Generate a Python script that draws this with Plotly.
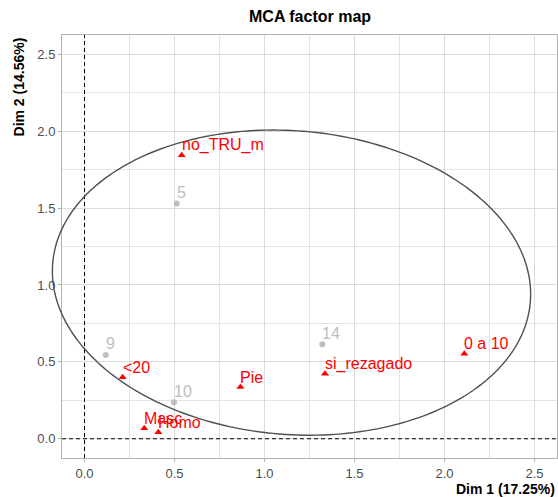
import numpy as np
import plotly.graph_objects as go

# ---- data ----
ind_labels = ["5", "9", "10", "14"]
ind_x = [0.512, 0.118, 0.497, 1.321]
ind_y = [1.530, 0.545, 0.238, 0.615]

cat_labels = ["no_TRU_m", "<20", "Masc", "Homo", "Pie", "si_rezagado", "0 a 10"]
cat_x = [0.540, 0.212, 0.332, 0.410, 0.866, 1.336, 2.110]
cat_y = [1.844, 0.400, 0.069, 0.043, 0.336, 0.422, 0.552]

# ellipse (centre, radii, phase)
ell_cx, ell_cy = 1.15, 1.015
ell_rx, ell_ry = 1.3285, 0.992
ell_phi = 1.6465

XR = [-0.125, 2.625]
YR = [-0.125, 2.625]

FONT = "Liberation Sans, Arial, sans-serif"
GREY = "#bebebe"
RED = "#ff0000"

fig = go.Figure()

fig.add_trace(go.Scatter(
    x=ind_x, y=ind_y, mode="markers",
    marker=dict(symbol="circle", size=6, color=GREY),
    showlegend=False, hoverinfo="skip"))
fig.add_trace(go.Scatter(
    x=cat_x, y=cat_y, mode="markers",
    marker=dict(symbol="triangle-up", size=7, color=RED),
    showlegend=False, hoverinfo="skip"))

annotations = []
for lab, x, y in zip(ind_labels, ind_x, ind_y):
    annotations.append(dict(x=x, y=y, xref="x", yref="y", text=lab, showarrow=False,
                            xanchor="left", yanchor="middle", xshift=-2, yshift=11,
                            font=dict(family=FONT, size=16, color=GREY)))
for lab, x, y in zip(cat_labels, cat_x, cat_y):
    annotations.append(dict(x=x, y=y, xref="x", yref="y", text=lab.replace("<", "&lt;"),
                            showarrow=False, xanchor="left", yanchor="middle",
                            xshift=-2, yshift=10,
                            font=dict(family=FONT, size=16, color=RED)))

# titles
annotations.append(dict(x=0.5, y=1.043, xref="paper", yref="paper", text="<b>MCA factor map</b>",
                        showarrow=False, xanchor="center", yanchor="middle",
                        font=dict(family=FONT, size=16, color="#000000")))
annotations.append(dict(x=1.0, y=-0.0733, xref="paper", yref="paper", text="<b>Dim 1 (17.25%)</b>",
                        showarrow=False, xanchor="right", yanchor="middle",
                        font=dict(family=FONT, size=14, color="#000000")))
annotations.append(dict(x=-0.0869, y=1.0, xref="paper", yref="paper", text="<b>Dim 2 (14.56%)</b>",
                        showarrow=False, xanchor="center", yanchor="top", textangle=-90,
                        font=dict(family=FONT, size=14, color="#000000")))

# ellipse in paper coordinates (so it is not clipped by the panel)
t = np.linspace(0, 2 * np.pi, 241)
ex = ell_cx + ell_rx * np.cos(t)
ey = ell_cy + ell_ry * np.cos(t - ell_phi)
px = (ex - XR[0]) / (XR[1] - XR[0])
py = (ey - YR[0]) / (YR[1] - YR[0])
path = "M " + " L ".join(f"{a:.5f},{b:.5f}" for a, b in zip(px, py)) + " Z"

shapes = [
    dict(type="line", xref="x", yref="paper", x0=0, x1=0, y0=0, y1=1,
         line=dict(color="black", width=1, dash="4px,3px"), layer="above"),
    dict(type="line", xref="paper", yref="y", x0=0, x1=1, y0=0, y1=0,
         line=dict(color="black", width=1, dash="4px,3px"), layer="above"),
    dict(type="path", xref="paper", yref="paper", path=path,
         line=dict(color="#505050", width=1.4), layer="above"),
]

axis_common = dict(
    automargin=False,
    showgrid=True, gridcolor="#dcdcdc", gridwidth=1,
    zeroline=False, showline=True, mirror=True, linecolor="#b3b3b3", linewidth=1,
    ticks="outside", ticklen=3, tickcolor="#b3b3b3", tickwidth=1,
    tickfont=dict(family=FONT, size=13, color="#4d4d4d"),
    dtick=0.5, tick0=0, tickformat=".1f",
    minor=dict(dtick=0.25, tick0=0, showgrid=True, gridcolor="#e3e3e3", gridwidth=0.8, ticks=""),
)

fig.update_layout(
    width=558, height=497,
    margin=dict(l=62, r=1, t=35, b=39),
    paper_bgcolor="white", plot_bgcolor="white",
    xaxis=dict(range=XR, **axis_common),
    yaxis=dict(range=YR, **axis_common),
    annotations=annotations, shapes=shapes,
    showlegend=False,
)

fig.write_html("out.html", config={"displayModeBar": False},
               post_script="document.body.style.margin='0px';")
